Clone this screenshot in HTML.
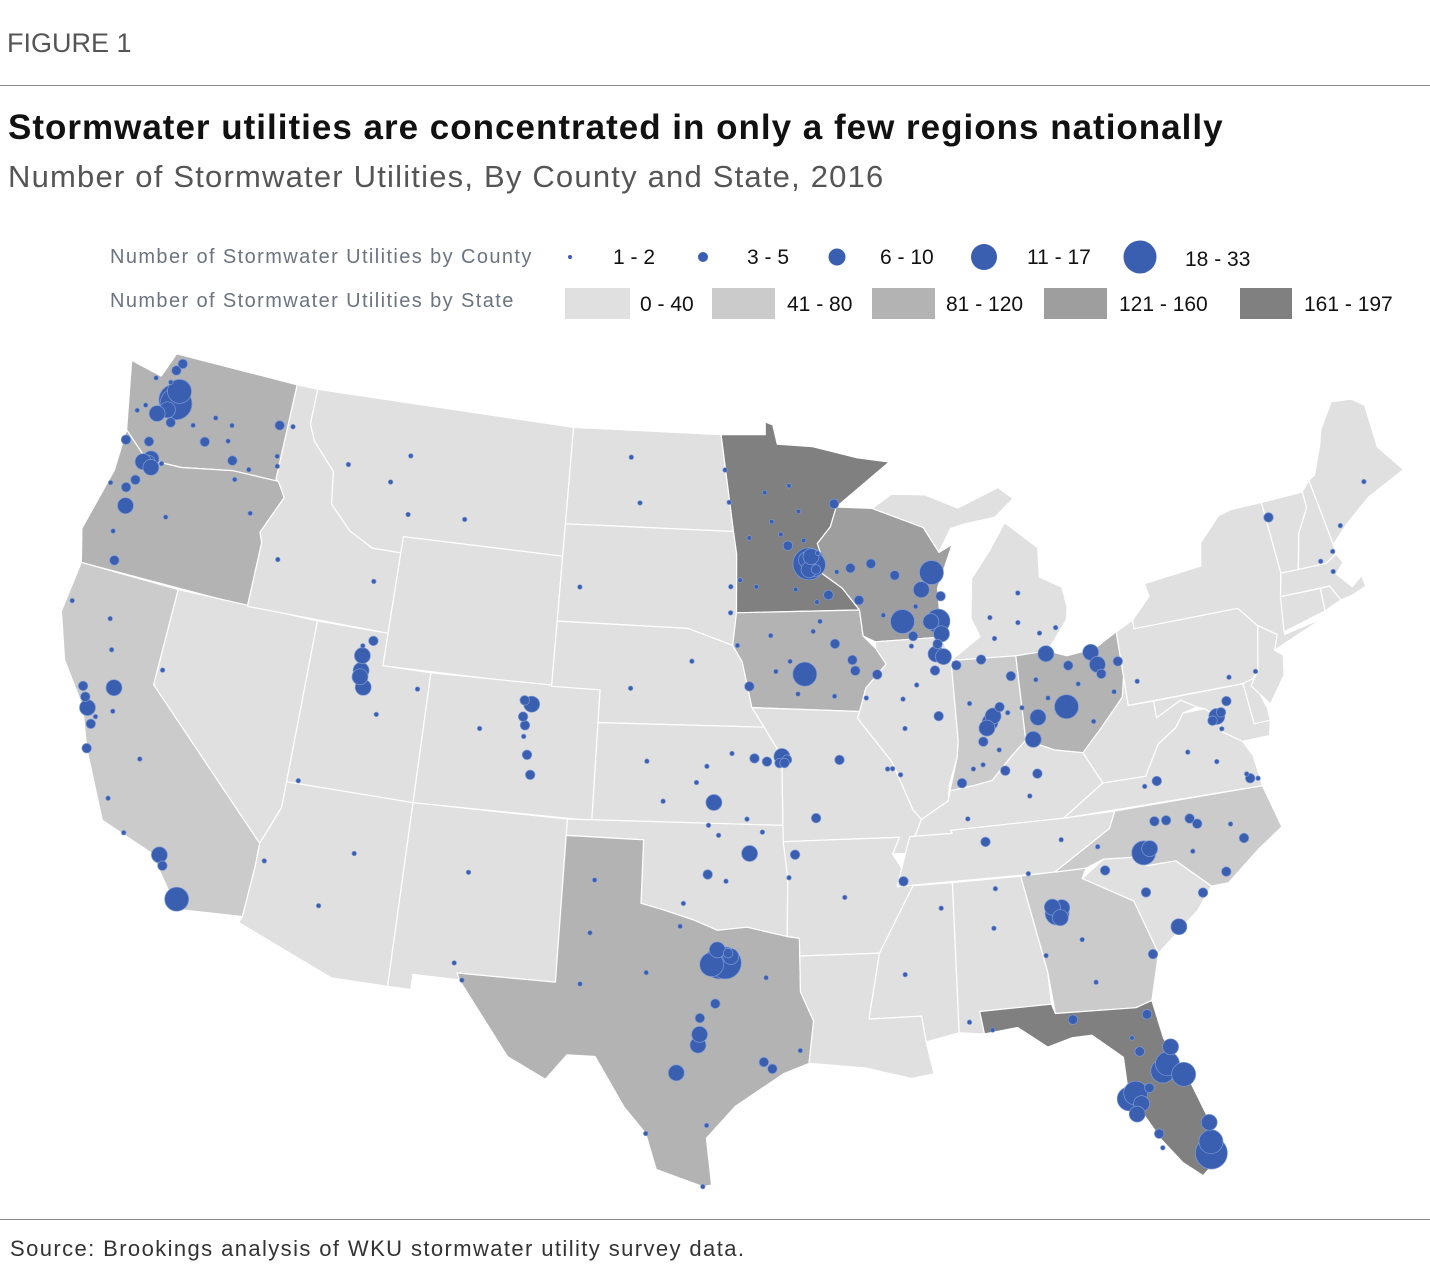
<!DOCTYPE html>
<html><head><meta charset="utf-8"><style>
body{margin:0;background:#fff;width:1430px;height:1282px;overflow:hidden;font-family:"Liberation Sans",sans-serif}
.t{position:absolute;white-space:nowrap}
</style></head><body>
<div class="t" style="left:7px;top:28px;font-size:27px;color:#555">FIGURE 1</div>
<div style="position:absolute;left:0;top:85px;width:1430px;height:1px;background:#888"></div>
<div class="t" style="left:8px;top:108px;font-size:35px;font-weight:bold;color:#111;letter-spacing:1px">Stormwater utilities are concentrated in only a few regions nationally</div>
<div class="t" style="left:8px;top:159px;font-size:31px;color:#555;letter-spacing:1.2px">Number of Stormwater Utilities, By County and State, 2016</div>
<div style="position:absolute;left:0;top:1219px;width:1430px;height:1px;background:#888"></div>
<div class="t" style="left:10px;top:1236px;font-size:22px;color:#333;letter-spacing:1.4px">Source: Brookings analysis of WKU stormwater utility survey data.</div>
<svg id="map" width="1430" height="1282" style="position:absolute;left:0;top:0"></svg>
<script>
const stateNames=["WA","OR","CA","NV","ID","MT","WY","UT","AZ","CO","NM","ND","SD","NE","KS","OK","TX","MN","IA","MO","AR","LA","WI","IL","MI","MIU","IN","OH","KY","TN","MS","AL","GA","FL","SC","NC","VA","WV","MD","DE","PA","NY","NJ","CT","RI","MA","VT","NH","ME"];
const stateClass={WA:2,OR:2,CA:1,TX:2,MN:4,WI:3,IA:2,OH:2,IN:1,FL:4,NC:1,GA:1};
const classColors=["#e0e0e0","#cbcbcb","#b3b3b3","#9e9e9e","#808080"];
const classLabels=["0 - 40","41 - 80","81 - 120","121 - 160","161 - 197"];
const sizeLabels=["1 - 2","3 - 5","6 - 10","11 - 17","18 - 33"];
const sizeBreaks=[2,5,10,17,33];
const shapes={
WA:[[-124.7,48.4],[-123.2,48.2],[-122.8,49],[-117.03,49],[-117.03,46.0],[-116.9,45.95],[-119,45.95],[-121.2,45.65],[-122.8,45.6],[-124.0,46.3]],
OR:[[-124.0,46.3],[-122.8,45.6],[-121.2,45.65],[-119,45.95],[-116.9,45.95],[-116.5,45.5],[-117.2,44.3],[-117.03,44.0],[-117.03,42],[-124.2,42],[-124.6,43],[-124.0,45]],
CA:[[-124.2,42],[-120,42],[-120,39],[-114.6,35],[-114.6,34.3],[-114.7,32.7],[-117.1,32.5],[-118.5,34],[-120.6,34.6],[-121.9,36.6],[-122.5,37.8],[-123.7,39],[-124.4,40.4]],
NV:[[-120,42],[-114.04,42],[-114.04,36.2],[-114.6,35],[-120,39]],
ID:[[-117.03,49],[-116.05,49],[-116.05,47.9],[-115.7,47.4],[-114.6,46.6],[-114.4,45.6],[-113.4,44.9],[-112.3,44.5],[-111.05,44.5],[-111.05,42],[-117.03,42],[-117.03,44],[-117.2,44.3],[-116.5,45.5],[-116.9,45.95],[-117.03,46]],
MT:[[-116.05,49],[-104.05,49],[-104.05,45],[-111.05,45],[-111.05,44.5],[-112.3,44.5],[-113.4,44.9],[-114.4,45.6],[-114.6,46.6],[-115.7,47.4],[-116.05,47.9]],
WY:[[-111.05,45],[-104.05,45],[-104.05,41],[-111.05,41]],
UT:[[-114.04,42],[-111.05,42],[-111.05,41],[-109.05,41],[-109.05,37],[-114.04,37]],
AZ:[[-114.04,37],[-109.05,37],[-109.05,31.33],[-111.1,31.33],[-114.8,32.5],[-114.7,32.7],[-114.6,34.3],[-114.6,35],[-114.04,36.2]],
CO:[[-109.05,41],[-102.05,41],[-102.05,37],[-109.05,37]],
NM:[[-109.05,37],[-103.0,37],[-103.0,32],[-106.6,32],[-106.5,31.8],[-108.2,31.8],[-108.2,31.33],[-109.05,31.33]],
ND:[[-104.05,49],[-97.2,49],[-96.6,46],[-104.05,46]],
SD:[[-104.05,46],[-96.6,46],[-96.45,45.3],[-96.45,43.5],[-96.6,42.5],[-98.5,43],[-104.05,43]],
NE:[[-104.05,43],[-98.5,43],[-96.6,42.5],[-96.2,42],[-95.8,40.6],[-95.3,40],[-102.05,40],[-102.05,41],[-104.05,41]],
KS:[[-102.05,40],[-95.3,40],[-94.6,39.1],[-94.6,37],[-102.05,37]],
OK:[[-103,37],[-94.6,37],[-94.45,35.4],[-94.5,33.6],[-96,33.9],[-97.1,33.8],[-98,34.1],[-99.2,34.4],[-100,34.56],[-100,36.5],[-103,36.5]],
TX:[[-103,36.5],[-100,36.5],[-100,34.56],[-99.2,34.4],[-98,34.1],[-97.1,33.8],[-96,33.9],[-94.5,33.6],[-94.05,33.55],[-94.05,31.9],[-93.6,31],[-93.8,29.7],[-94.7,29.4],[-96.4,28.4],[-97.4,27.4],[-97.2,25.95],[-97.5,25.9],[-99.1,26.4],[-99.5,27.5],[-100.3,28.3],[-101.4,29.8],[-102.4,29.8],[-103.1,29],[-104.5,29.6],[-106.5,31.8],[-106.6,32],[-103,32]],
MN:[[-97.2,49],[-95.15,49],[-95.15,49.4],[-94.8,49.3],[-94.6,48.7],[-93,48.6],[-91,48.2],[-89.5,48],[-92.0,46.7],[-92.3,46.1],[-92.9,45.6],[-92.7,45.1],[-92.8,44.7],[-91.9,44.2],[-91.2,43.5],[-96.45,43.5],[-96.45,45.3],[-96.6,46]],
IA:[[-96.45,43.5],[-91.2,43.5],[-91.1,42.7],[-90.6,42.3],[-90.2,41.8],[-91.1,41.1],[-91.4,40.4],[-95.8,40.6],[-96.2,42],[-96.6,42.5]],
MO:[[-95.8,40.6],[-91.4,40.4],[-91.5,40.2],[-90.2,38.8],[-89.5,37.3],[-89.2,37],[-89.5,36.5],[-89.7,36],[-90.4,36],[-90.1,36.5],[-94.6,36.5],[-94.6,39.1],[-95.3,40]],
AR:[[-94.6,36.5],[-90.1,36.5],[-90.4,36],[-89.7,35],[-91.1,33.0],[-94.05,33.0],[-94.05,33.55],[-94.5,33.6],[-94.45,35.4]],
LA:[[-94.05,33],[-91.1,33],[-91.6,31],[-89.7,31],[-89.6,30.2],[-89.4,29.2],[-90.2,29.1],[-91.8,29.5],[-93.8,29.7],[-93.6,31],[-94.05,31.9]],
WI:[[-92.0,46.7],[-90.4,46.6],[-88.2,45.9],[-87.6,45.1],[-87.0,45.3],[-87.8,44.0],[-87.8,42.5],[-90.6,42.5],[-91.1,42.7],[-91.2,43.5],[-91.9,44.2],[-92.8,44.7],[-92.7,45.1],[-92.9,45.6],[-92.3,46.1]],
IL:[[-90.6,42.5],[-87.8,42.5],[-87.5,41.7],[-87.5,39.3],[-87.6,38.8],[-88,38],[-88.1,37.5],[-89.2,37],[-89.5,37.3],[-90.2,38.8],[-91.5,40.2],[-91.4,40.4],[-91.1,41.1],[-90.2,41.8],[-90.6,42.3]],
MI:[[-87.5,41.76],[-84.8,41.7],[-83.45,41.73],[-82.5,42.6],[-82.4,43],[-82.5,43.6],[-83.4,44],[-83.3,44.9],[-84.6,45.8],[-85.4,45.0],[-86.3,44.2],[-86.5,43.0],[-86.2,42.4]],
MIU:[[-90.4,46.6],[-88.2,45.9],[-87.6,45.1],[-87,45.8],[-86.3,45.9],[-85.0,46.0],[-84.1,46.5],[-84.7,46.9],[-86.6,46.4],[-88,46.9],[-89.5,47.0]],
IN:[[-87.5,41.76],[-84.8,41.7],[-84.8,39.1],[-85.4,38.7],[-86.3,38.0],[-87.0,37.9],[-88,37.8],[-87.6,38.8],[-87.5,39.3]],
OH:[[-84.8,41.7],[-83.45,41.73],[-82.7,41.5],[-81.5,41.6],[-80.52,42.0],[-80.52,40.6],[-80.7,40.0],[-81.7,39.2],[-82.6,38.5],[-83.7,38.7],[-84.8,39.1]],
KY:[[-89.2,37],[-88.1,37.5],[-88,37.8],[-87.0,37.9],[-86.3,38.0],[-85.4,38.7],[-84.8,39.1],[-83.7,38.7],[-82.6,38.5],[-82.0,37.5],[-83.7,36.6],[-88.1,36.6],[-88.05,36.5],[-89.5,36.5]],
TN:[[-89.7,36.5],[-88.05,36.5],[-88.1,36.6],[-83.7,36.6],[-81.7,36.6],[-82,36.1],[-84.3,35.0],[-90.3,35.0]],
MS:[[-91.1,33.0],[-89.7,35],[-88.2,35],[-88.4,30.4],[-89.6,30.2],[-89.7,31],[-91.6,31]],
AL:[[-88.2,35],[-85.6,35],[-85,32],[-85.0,31.0],[-87.6,31],[-87.5,30.3],[-88.4,30.4]],
GA:[[-85.6,35],[-83.1,35],[-83.3,34.7],[-81.5,33.8],[-80.9,32.1],[-81.4,30.7],[-82.0,30.55],[-84.9,30.7],[-85.0,32]],
FL:[[-87.6,31],[-85.0,31.0],[-84.9,30.7],[-82.0,30.55],[-81.4,30.7],[-81.2,29.5],[-80.5,28],[-80.0,26.5],[-80.2,25.4],[-80.6,25.1],[-81.2,25.6],[-81.8,26.4],[-82.7,28],[-82.7,29.1],[-83.7,29.9],[-84.4,29.9],[-85.3,29.7],[-86.3,30.4],[-87.5,30.3]],
SC:[[-83.3,34.7],[-82.4,35.2],[-81.0,35.1],[-80.8,34.8],[-79.7,34.8],[-78.55,33.85],[-79.2,33.2],[-80.9,32.1],[-81.5,33.8]],
NC:[[-84.3,35.0],[-82,36.1],[-81.7,36.6],[-75.9,36.55],[-75.5,35.2],[-76.5,34.7],[-77.9,33.85],[-78.55,33.85],[-79.7,34.8],[-80.8,34.8],[-81,35.1],[-82.4,35.2],[-83.1,35]],
VA:[[-83.7,36.6],[-75.9,36.55],[-76.0,37.5],[-76.3,38.0],[-77.0,38.4],[-77.1,38.9],[-77.5,39.2],[-78.4,39.2],[-78.8,38.8],[-79.6,38.4],[-80.3,37.5],[-82.0,37.5]],
WV:[[-82.6,38.5],[-81.7,39.2],[-80.7,40.0],[-80.52,40.6],[-80.52,39.72],[-79.48,39.72],[-79.48,39.2],[-78.4,39.6],[-77.8,39.3],[-78.4,39.2],[-78.8,38.8],[-79.6,38.4],[-80.3,37.5],[-82.0,37.5]],
MD:[[-79.48,39.72],[-75.8,39.72],[-75.7,38.45],[-75.05,38.45],[-75.2,38.0],[-76.3,38.0],[-77.0,38.4],[-77.1,38.9],[-77.5,39.2],[-77.8,39.3],[-78.4,39.6],[-79.48,39.2]],
DE:[[-75.8,39.72],[-75.4,39.8],[-75.05,38.8],[-75.05,38.45],[-75.7,38.45]],
PA:[[-80.52,42.0],[-79.76,42.27],[-79.76,42],[-75.35,42],[-74.7,41.35],[-75.1,40.0],[-75.4,39.8],[-75.8,39.72],[-80.52,39.72]],
NY:[[-79.76,42.0],[-79.76,42.27],[-78.9,42.9],[-79.0,43.3],[-76.5,43.5],[-76.3,44.2],[-75.3,44.9],[-74.7,45.0],[-73.35,45.0],[-73.25,42.75],[-73.5,42.05],[-73.5,41.2],[-73.7,40.9],[-72,41.1],[-73.9,40.6],[-74.25,40.5],[-74.0,40.95],[-74.7,41.35],[-75.35,42]],
NJ:[[-74.7,41.35],[-74.0,40.95],[-74.25,40.5],[-73.95,40.3],[-74.1,39.7],[-74.9,38.93],[-75.5,39.6],[-75.1,40.0]],
CT:[[-73.5,42.05],[-71.8,42.0],[-71.85,41.3],[-73.7,40.98]],
RI:[[-71.8,42.0],[-71.4,42.0],[-71.1,41.5],[-71.85,41.3]],
MA:[[-73.5,42.05],[-73.25,42.75],[-71.3,42.7],[-70.8,42.9],[-70.6,42.6],[-71.0,42.3],[-70.5,41.8],[-70,42.05],[-69.95,41.7],[-70.6,41.55],[-71.1,41.5],[-71.4,42.0]],
VT:[[-73.35,45.0],[-71.5,45.0],[-71.5,44.5],[-72.1,43.8],[-72.5,42.73],[-73.25,42.75]],
NH:[[-71.5,45.0],[-71.1,45.3],[-70.8,43.2],[-70.8,42.9],[-71.3,42.7],[-72.5,42.73],[-72.1,43.8],[-71.5,44.5]],
ME:[[-71.1,45.3],[-70.8,45.4],[-70.2,46.3],[-70.0,46.7],[-69.2,47.45],[-68.3,47.35],[-67.8,47.05],[-67.8,45.7],[-67.0,44.8],[-68.8,44.3],[-70.0,43.7],[-70.8,43.2]]
};
const dotLon=[-122.3,-122.2,-122.2,-122.5,-122.9,-122.6,-122.4,-122.7,-123.4,-123.5,-122.2,-122.6,-122.9,-123.8,-120.5,-119.1,-117.4,-120.3,-121.2,-119.5,-118.3,-117.2,-119.5,-117.1,
-122.7,-122.9,-122.5,-123.0,-123.1,-123.3,-123.3,-122.9,-121.3,-118.8,-117.8,-124,-123.9,-122.1,
-122.3,-122.0,-121.9,-122.5,-121.5,-122.7,-121.3,-121.9,-120.6,-119.7,-118.2,-117.2,-124.1,-122.4,-122.0,-119.8,-118.0,
-119.8,-116.2,-116.8,-112.0,-114,-111,-108.5,-111.3,-112,
-111.9,-111.95,-111.7,-111.9,-111.6,-113.6,-111.0,-109.5,-112.0,
-104.99,-105.1,-105.1,-104.8,-104.8,-104.6,-105.0,-106.8,
-97.3,-94.6,-95.7,-95.9,-97.5,-98.4,-97.6,-96.6,-95.2,-94.7,-96.0,-97.1,-95.4,-98.0,-99.3,-100.0,-96.8,-97.5,
-103.2,-96.7,-96.8,-100.8,-97,-101.3,-96.7,-98.3,-100.8,
-93.3,-93.1,-93.4,-93.2,-93.3,-93.0,-92.5,-94.2,-92.1,-94.9,-95.6,-93.9,-92.9,-94.5,-93.7,-95.2,-96.3,-93.0,-94.1,-92.1,-95.9,-93.5,
-87.9,-88.2,-89.4,-88.0,-88.5,-87.7,-91.5,-90.6,-89.6,-87.8,-89.0,-91.2,-88.8,-90.2,
-93.6,-91.6,-90.6,-96.4,-92.3,-95.9,-91.5,-94.2,-93.2,-92.4,-95.0,-91.1,-93.9,-92.9,-94.8,
-87.8,-88.1,-88.0,-88.2,-89.6,-89.6,-90.2,-88.2,-89.1,-89.9,-89.0,
-86.15,-86.0,-86.3,-85.1,-86.25,-87.3,-87.5,-86.5,-85.7,-86.9,-85.4,-87.0,-86.6,-85.9,
-83.0,-84.5,-84.2,-81.7,-81.5,-83.55,-82.7,-80.65,-81.4,-82.4,-84.1,-83.7,-82.0,-81.0,-84.8,
-83.0,-85.6,-84.55,-85.7,-83.7,-84.4,
-85.75,-84.5,-86.8,-90.05,-83.9,-85.3,-87.4,-84.9,
-84.4,-84.2,-84.55,-84.3,-83.6,-81.1,-84.99,-83.3,
-80.85,-80.6,-79.8,-78.65,-78.9,-77.9,-77.0,-80.25,-82.55,-77.4,-79.0,
-80,-81.0,-82.4,-78.9,
-81.65,-82.7,-82.45,-82.3,-81.4,-81.2,-81.0,-80.7,-82.5,-80.1,-80.15,-80.2,-84.3,-87.2,-82.3,-81.85,-81.8,-82.1,-81.95,
-97.0,-96.8,-97.3,-96.6,-97.1,-96.7,-97.75,-97.7,-98.5,-95.4,-95.1,-97.15,-97.7,-101.85,-101.8,-106.4,-97.4,-97.5,-99.5,-99.7,-95.3,-94.1,-98.5,-102.1,
-77.1,-77.3,-76.6,-76.9,-77.0,-76.3,-76.4,-77.45,-79.9,-78.5,-80.4,-76.0,
-75.2,-80.0,-76.3,-73.2,-70.3,-71.1,-71.5,-70.9,-68.8,
-106.6,-106.75,-112,-111,-114.3,
-94.4,-94.5,-93.3,-92.3,-90.4,-92.3,-94.15,-94.4,-90.2,-88.7,-86.8,-86.6,-88.0];
const dotLat=[47.6,47.5,47.9,47.25,47.05,48.5,48.75,48.1,48.1,47.2,46.9,45.65,46.15,46.97,46.6,46.25,47.65,47.4,47,47.3,46.1,46.7,46.8,46.4,
45.5,45.5,45.4,44.9,44.05,44.6,43.2,42.35,44.05,45.7,44.8,44.6,46.0,45.6,
37.8,37.35,37.6,38.1,38.6,38.4,37.9,36.6,35.3,34.4,34.0,32.8,40.8,40.6,39.7,36.7,33.7,
39.5,43.6,47.7,43.5,46.9,45.7,45.8,47.5,46.6,
40.75,41.2,40.25,40.55,41.7,37.1,39.5,40.45,41.5,
39.74,40.0,40.5,40.4,38.85,38.25,39.4,39.5,
37.7,39.1,39.05,36.15,35.5,34.6,38.8,39.2,38.95,38.9,37.2,36.7,36.8,38.3,37.7,38.9,35.3,37.0,
44.1,43.5,46.9,46.8,47.9,48.2,44.3,42.0,41.1,
44.98,44.95,45.1,45.2,44.8,44.8,44.0,45.55,46.8,46.3,44.3,44.2,45.3,45.9,46.6,47.2,44.5,43.8,47.4,44.7,45.8,45.7,
43.0,43.0,43.07,44.5,44.0,43.75,44.8,44.9,44.5,42.6,42.6,43.8,43.5,43.3,
41.6,41.98,41.5,42.5,42.5,41.25,41.65,42.0,42.9,40.9,42.8,40.8,41.0,43.2,41.7,
41.9,42.0,42.3,41.5,39.8,40.7,38.6,40.1,42.3,38.4,41.1,
39.77,39.95,39.6,41.1,41.7,41.6,38.0,39.2,40.2,40.4,40.0,38.4,38.5,38.9,
39.96,39.1,39.75,41.5,41.1,41.65,41.2,41.1,40.8,40.6,40.9,40.3,39.4,40.2,40.1,
42.4,42.3,42.7,42.95,42.3,43.6,
38.25,38.05,36.15,35.15,35.96,35.05,36.9,37.4,
33.75,33.9,33.95,33.6,32.85,32.1,32.5,31.5,
35.2,35.3,36.07,35.8,36.0,34.2,35.1,36.1,35.6,35.6,35.0,
32.8,34.0,34.85,33.7,
30.3,27.8,27.95,27.6,28.5,28.7,29.2,28.3,27.3,26.7,26.1,25.75,30.45,30.4,29.65,26.6,26.15,29.2,28.05,
32.8,32.8,32.75,33.0,33.2,33.1,30.27,30.6,29.4,29.76,29.55,31.55,31.1,33.58,35.2,31.8,27.8,25.9,27.5,32.45,32.35,30.1,33.9,32.0,
38.9,38.8,39.3,39.0,38.5,36.85,37.0,37.55,37.3,38.0,37.2,36.8,
40.0,40.4,40.0,44.5,43.7,42.4,42.8,43.0,44.8,
35.1,32.3,33.45,35.2,34.5,
39.0,38.9,37.2,38.95,38.6,34.75,36.1,35.4,32.3,34.25,33.5,34.7,30.7];
const dotCount=[25,20,12,10,8,3,4,2,2,2,3,10,5,2,3,4,5,2,2,2,2,2,2,2,
10,8,6,5,6,3,2,4,2,2,2,2,3,2,
8,5,2,4,10,4,2,4,2,2,8,12,2,2,2,2,3,
2,2,2,2,2,2,2,2,2,
8,6,10,6,5,2,2,2,2,
5,4,4,8,4,4,2,2,
6,10,3,10,5,2,2,2,3,3,2,2,2,2,2,2,2,2,
2,2,2,2,2,2,2,2,2,
30,15,10,6,8,5,3,3,3,2,2,2,2,2,2,2,2,2,2,2,2,2,
15,10,15,12,6,3,4,3,3,6,4,3,2,2,
17,4,3,2,3,3,4,2,2,2,2,2,2,2,2,
6,8,4,3,2,2,2,4,2,2,2,
10,8,6,5,4,5,3,3,3,2,2,2,2,2,
12,8,10,10,8,6,4,4,4,2,2,2,2,2,2,
2,2,2,2,2,2,
5,3,3,5,2,2,2,2,
12,10,8,6,2,3,2,2,
12,8,3,4,4,4,3,3,2,2,2,
8,3,3,5,
4,15,12,8,15,12,10,12,8,10,15,25,3,2,2,4,2,3,4,
30,20,12,8,6,5,8,6,10,5,3,3,3,2,2,2,2,2,2,2,2,2,2,2,
6,4,4,4,2,3,2,2,3,2,2,2,
2,2,2,5,2,2,2,2,2,
2,2,2,2,2,
4,3,3,3,2,2,3,2,2,2,2,2,2];

const NS="http://www.w3.org/2000/svg";
const svg=document.getElementById('map');
const R=Math.PI/180,n=0.60285,C=1.3512,rho0=1.2821,K=1860,TX0=747,TY0=770;
function proj(lon,lat){const rho=Math.sqrt(C-2*n*Math.sin(lat*R))/n;const th=n*(lon+96)*R;
return [TX0+K*rho*Math.sin(th),TY0-K*(rho0-rho*Math.cos(th))];}
const radii=[2.3,4.8,8,12,16];
function sizeClass(v){for(let i=0;i<sizeBreaks.length;i++)if(v<=sizeBreaks[i])return i;return 4;}
function mk(tag,attrs){const e=document.createElementNS(NS,tag);for(const k in attrs)e.setAttribute(k,attrs[k]);svg.appendChild(e);return e;}

stateNames.forEach(s=>{
 const d="M"+shapes[s].map(p=>proj(p[0],p[1]).map(v=>v.toFixed(1)).join(",")).join("L")+"Z";
 const p=mk('path',{d:d,fill:classColors[stateClass[s]||0],stroke:"#fff","stroke-width":1.2,"stroke-linejoin":"round"});
 
 
});
const order=dotCount.map((v,i)=>i).sort((a,b)=>dotCount[b]-dotCount[a]);
order.forEach(i=>{
 const [x,y]=proj(dotLon[i],dotLat[i]);
 const c=mk('circle',{cx:x.toFixed(1),cy:y.toFixed(1),r:radii[sizeClass(dotCount[i])],fill:"#3a5fb0",stroke:"#7f9bd6","stroke-width":0.7});
 
 
});

function txt(x,y,s,size,col,name,ls){const t=mk('text',{x:x,y:y,"font-size":size,fill:col,"font-family":"Liberation Sans, sans-serif","letter-spacing":ls||0});t.textContent=s;return t;}
txt(110,263,"Number of Stormwater Utilities by County",20,"#6b7480","legend-county-title",1.4);
txt(110,307,"Number of Stormwater Utilities by State",20,"#6b7480","legend-state-title",1.4);
const dotLegX=[570,703,837,984,1140], dotLegTX=[613,747,880,1027,1185];
sizeLabels.forEach((l,i)=>{
 const c=mk('circle',{cx:dotLegX[i],cy:257,r:[2,5,8.5,13,16.5][i],fill:"#3a5fb0"});
 
 
 txt(dotLegTX[i],264+(i==4?2:0),l,21,"#111","legend-size-label");
});
const swX=[565,712,872,1044,1240],swW=[65,63,63,63,52],swTX=[640,787,946,1119,1304];
classLabels.forEach((l,i)=>{
 const r=mk('rect',{x:swX[i],y:288,width:swW[i],height:31,fill:classColors[i]});
 
 
 txt(swTX[i],311,l,21,"#111","legend-class-label");
});
</script>
</body></html>
